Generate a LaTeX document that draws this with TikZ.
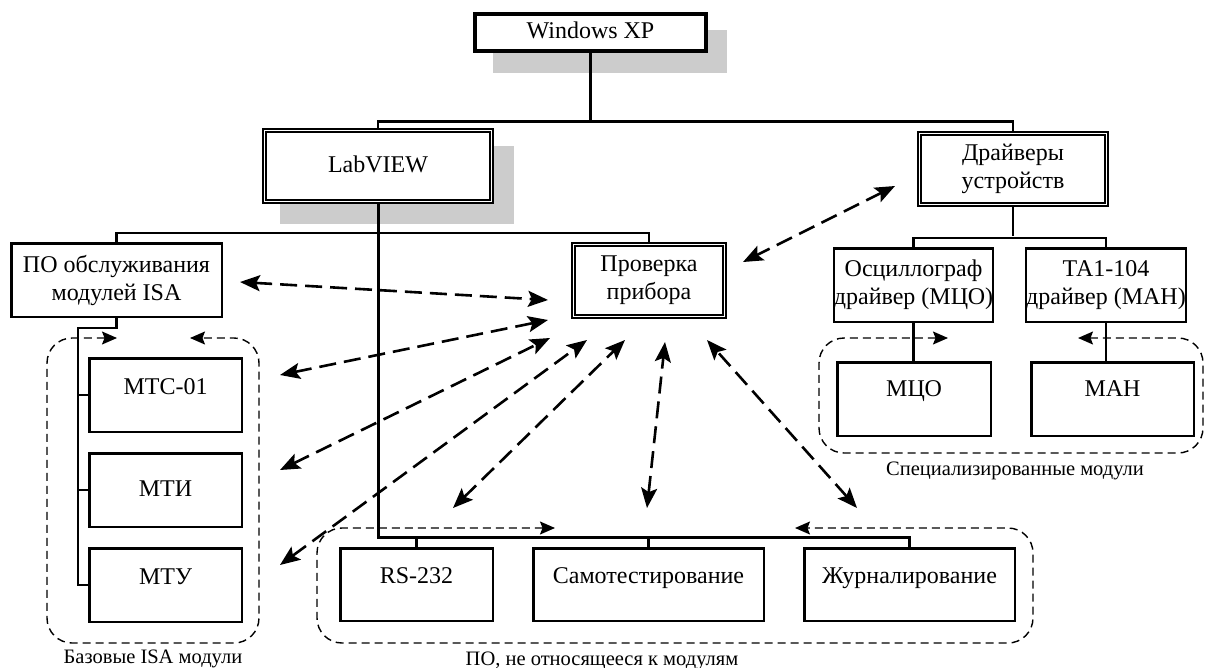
\documentclass[tikz,border=0pt]{standalone}
\usepackage{fontspec}
\setmainfont{Liberation Serif}
\usetikzlibrary{arrows.meta,calc}
\begin{document}
\begin{tikzpicture}[x=1pt,y=-1pt,
  bx/.style={draw, line width=2.5pt, inner sep=0pt, align=center, font=\fontsize{24}{28}\selectfont},
  one/.style={text height=17pt, text depth=5pt},
  up/.style={text depth=19pt},
  upp/.style={text depth=23pt},
  dbl/.style={bx, double, line width=1.6pt, double distance=1.6pt},
  conn/.style={line width=2.5pt},
  darr/.style={line width=2.6pt, dash pattern=on 17pt off 8pt,
     {Stealth[length=20pt,width=16pt,inset=4pt]}-{Stealth[length=20pt,width=16pt,inset=4pt]}},
  grp/.style={line width=1.4pt, dash pattern=on 8pt off 5pt, rounded corners=25pt,
     {Stealth[length=15pt,width=13pt,inset=2.5pt]}-{Stealth[length=15pt,width=13pt,inset=2.5pt]}},
  shadowbox/.style={fill=black!20, draw=none},
  glab/.style={inner sep=0pt, anchor=base, font=\fontsize{20.5}{24}\selectfont}
]
\useasboundingbox (0,0) rectangle (1205,667);

% shadows
\fill[shadowbox] (493,30) rectangle (727,73);
\fill[shadowbox] (280,146) rectangle (514,224);

% nodes
\node[bx, one, line width=4pt, minimum width=231pt, minimum height=37pt, fill=white] (win) at (590.5,32.5) {Windows XP};
\node[dbl, one, minimum width=227pt, minimum height=71pt, fill=white] (lab) at (378,166) {LabVIEW};
\node[dbl, minimum width=187pt, minimum height=71pt] (drv) at (1013,169) {Драйверы\\устройств};
\node[dbl, minimum width=151pt, minimum height=72pt] (chk) at (649,280.5) {Проверка\\прибора};
\node[bx, minimum width=210.5pt, minimum height=73.5pt] (isa) at (116.5,280) {ПО обслуживания\\модулей ISA};
\node[bx, one, up, minimum width=152.5pt, minimum height=73.5pt] (mtc) at (165.5,395) {МТС-01};
\node[bx, one, minimum width=152.5pt, minimum height=73.5pt] (mti) at (165.5,490) {МТИ};
\node[bx, one, up, minimum width=152.5pt, minimum height=73.5pt] (mtu) at (165.5,585) {МТУ};
\node[bx, one, up, minimum width=152.5pt, minimum height=72.5pt] (rs) at (416.5,584.5) {RS-232};
\node[bx, one, up, minimum width=230.5pt, minimum height=72.5pt] (self) at (648.5,584.5) {Самотестирование};
\node[bx, one, up, minimum width=210.5pt, minimum height=72.5pt] (jour) at (909.5,584.5) {Журналирование};
\node[bx, minimum width=152.5pt, minimum height=73.5pt] (osc) at (913.5,285) {Осциллограф\\драйвер (МЦО)};
\node[bx, minimum width=151.5pt, minimum height=73.5pt] (ta) at (1106,285) {ТА1-104\\драйвер (МАН)};
\node[bx, one, upp, minimum width=153.5pt, minimum height=73.5pt] (mco) at (914,399) {МЦО};
\node[bx, one, upp, minimum width=162.5pt, minimum height=73.5pt] (man) at (1112.5,399) {МАН};

% group labels
\node[glab] (l1) at (153,663.5) {Базовые ISA модули};
\node[glab] (l2) at (602,665) {ПО, не относящееся к модулям};
\node[glab] (l3) at (1015,475.5) {Специализированные модули};

% tree connectors
\draw[conn, line width=3.5pt] (win.south) -- ++(0,68);
\draw[conn] (lab.north) -- ++(0,-8) -| (drv.north);
\draw[conn, line width=3pt] (lab.south) |- ($(jour.north)+(0,-10)$) -- (jour.north);
\draw[conn] (isa.north) -- ++(0,-9) -| (chk.north);
\draw[conn] (rs.north) -- ++(0,-10);
\draw[conn] (self.north) -- ++(0,-10);
\draw[conn] (isa.south) -- ++(0,10) -| ($(mtu.west)+(-10,0)$) -- (mtu.west);
\draw[conn] (mtc.west) -- ++(-10,0);
\draw[conn] (mti.west) -- ++(-10,0);
\draw[conn] (drv.south) -- ++(0,31);
\draw[conn] (osc.north) -- ++(0,-9) -| (ta.north);
\draw[conn] (osc.south) -- (osc.south |- mco.north);
\draw[conn] (ta.south) -- (ta.south |- man.north);

% dashed double arrows
\coordinate (d1a) at (895,186);  \coordinate (d1b) at (743,262);
\coordinate (d2a) at (240,282);  \coordinate (d2b) at (548,300);
\coordinate (d3a) at (280,375);  \coordinate (d3b) at (548,320);
\coordinate (d4a) at (280,470);  \coordinate (d4b) at (550,338);
\coordinate (d5a) at (280,565);  \coordinate (d5b) at (587,340);
\coordinate (d6a) at (453,508);  \coordinate (d6b) at (625,340);
\coordinate (d7a) at (647,508);  \coordinate (d7b) at (665,342);
\coordinate (d8a) at (857,508);  \coordinate (d8b) at (707,340);
\foreach \i in {1,...,8} \draw[darr] (d\i a) -- (d\i b);

% groups
\draw[grp] (117,338) -- (47,338) -- (47,643) -- (259,643) -- (259,338) -- (190,338);
\draw[grp] (555,528) -- (317,528) -- (317,643) -- (1033,643) -- (1033,528) -- (795,528);
\draw[grp] (948,338) -- (819,338) -- (819,453) -- (1203,453) -- (1203,338) -- (1078,338);
\end{tikzpicture}
\end{document}
